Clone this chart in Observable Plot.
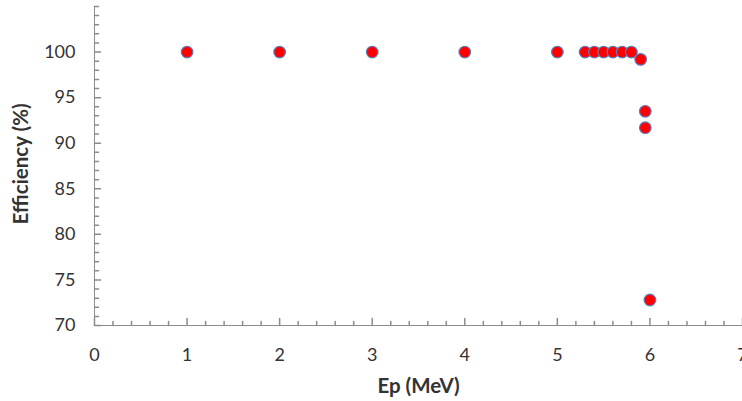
<!DOCTYPE html>
<html>
<head>
<meta charset="utf-8">
<script src="https://cdn.jsdelivr.net/npm/d3@7"></script>
<script src="https://cdn.jsdelivr.net/npm/@observablehq/plot@0.6"></script>
<style>
  body { margin: 0; background: #fff; }
  svg { overflow: visible; }
</style>
</head>
<body>
<div id="chart"></div>
<script>
// Data
const energy = [1, 2, 3, 4, 5, 5.3, 5.4, 5.5, 5.6, 5.7, 5.8, 5.9, 5.95, 5.95, 6.0];
const efficiency = [100, 100, 100, 100, 100, 100, 100, 100, 100, 100, 100, 99.2, 93.5, 91.7, 72.8];
const xMajor = [0, 1, 2, 3, 4, 5, 6, 7];
const yMajor = [70, 75, 80, 85, 90, 95, 100];
const xMinor = d3.range(0, 7.0001, 0.2).map(v => +v.toFixed(1)).filter(v => !xMajor.includes(v));
const yMinor = d3.range(70, 105.0001, 1).filter(v => !yMajor.includes(v));
const xLabel = "Ep (MeV)";
const yLabel = "Efficiency (%)";

const points = energy.map((e, i) => ({e, eff: efficiency[i]}));

const axisColor = "#8c8c8c";
const textColor = "#333333";
const tickShape = {draw(context, l) { context.moveTo(0, 0); context.lineTo(0, -l); }};

const chart = Plot.plot({
  width: 742,
  height: 401,
  marginLeft: 94,
  marginRight: 0,
  marginTop: 6,
  marginBottom: 76,
  style: {fontFamily: "Lato, 'Open Sans', sans-serif", background: "#fff"},
  x: {domain: [0, 7]},
  y: {domain: [70, 105]},
  marks: [
    Plot.ruleY([70], {stroke: axisColor}),
    Plot.ruleX([0], {stroke: axisColor}),
    // x ticks (inward)
    Plot.vector(xMajor, {x: d => d, y: 70, length: 7, anchor: "start", rotate: 0, shape: tickShape, stroke: axisColor}),
    Plot.vector(xMinor, {x: d => d, y: 70, length: 4, anchor: "start", rotate: 0, shape: tickShape, stroke: axisColor}),
    // y ticks (inward)
    Plot.vector(yMajor, {x: 0, y: d => d, length: 6, anchor: "start", rotate: 90, shape: tickShape, stroke: axisColor}),
    Plot.vector(yMinor, {x: 0, y: d => d, length: 4, anchor: "start", rotate: 90, shape: tickShape, stroke: axisColor}),
    Plot.axisX(xMajor, {tickSize: 0, tickPadding: 23, fontSize: 18, color: textColor, label: null}),
    Plot.axisY(yMajor, {tickSize: 0, tickPadding: 19, fontSize: 18, color: textColor, label: null}),
    Plot.text([xLabel], {frameAnchor: "bottom", textAnchor: "middle", lineAnchor: "middle", dy: 61, fontWeight: "bold", fontSize: 20.5, fill: textColor}),
    Plot.text([yLabel], {frameAnchor: "left", textAnchor: "middle", lineAnchor: "middle", dx: -73, dy: -2, rotate: -90, fontWeight: "bold", fontSize: 20.5, fill: textColor}),
    Plot.dot(points, {x: "e", y: "eff", r: 5.8, fill: "#ff0000", stroke: "#5b7cb8", strokeWidth: 1.2})
  ]
});
document.getElementById("chart").append(chart);
</script>
</body>
</html>
